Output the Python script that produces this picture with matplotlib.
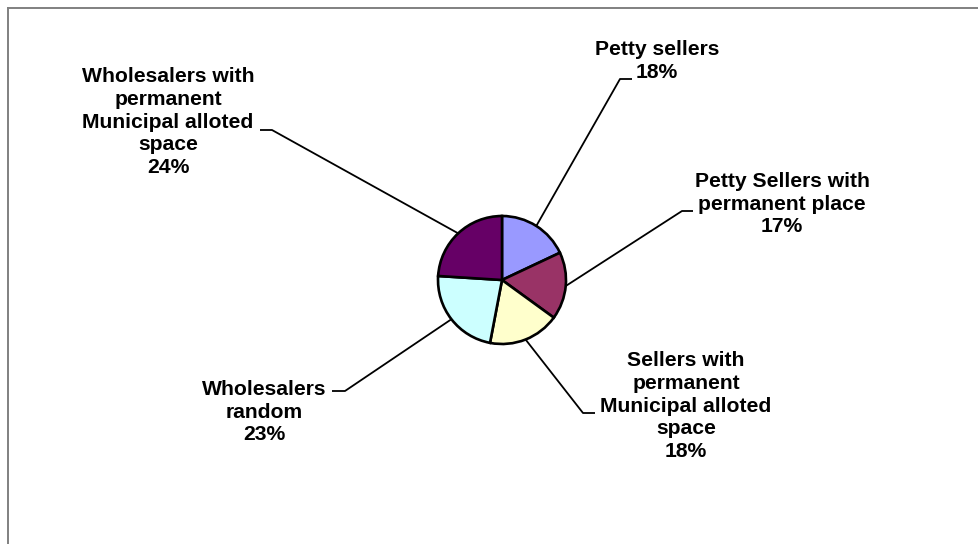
import numpy as np
import matplotlib
matplotlib.use("Agg")
import matplotlib.pyplot as plt
from matplotlib.lines import Line2D

# Market seller categories and their shares (%)
categories = [
    "Petty sellers",
    "Petty Sellers with\npermanent place",
    "Sellers with\npermanent\nMunicipal alloted\nspace",
    "Wholesalers\nrandom",
    "Wholesalers with\npermanent\nMunicipal alloted\nspace",
]
shares = [18, 17, 18, 23, 24]
colors = ["#9999FF", "#993366", "#FFFFCC", "#CCFFFF", "#660066"]

# Layout in pixel units (y measured from the top of the canvas)
W, H = 979, 544
pie_center = (502, 280)
pie_radius = 64
label_pos = [(657, 61), (782, 204), (686, 406), (264, 412), (168, 122)]
# leader: (x at text side, x at elbow, y)
leader = [(632, 620, 79), (693, 682, 211), (595, 583, 413),
          (332, 345, 391), (260, 272, 130)]

fig = plt.figure(figsize=(W / 100, H / 100), dpi=100)
ax = fig.add_axes([0, 0, 1, 1])
ax.set_xlim(0, W)
ax.set_ylim(0, H)
ax.set_aspect("equal")
ax.axis("off")

def fy(y):
    return H - y

cx, cy = pie_center[0], fy(pie_center[1])
wedges, _ = ax.pie(shares, colors=colors, startangle=90, counterclock=False,
                   center=(cx, cy), radius=pie_radius, frame=True,
                   wedgeprops=dict(edgecolor="black", linewidth=1.9))
ax.set_xlim(0, W)
ax.set_ylim(0, H)
ax.axis("off")

font = dict(family=["Liberation Sans", "DejaVu Sans"], fontweight="bold",
            fontsize=15.2, color="black")

for w, cat, val, (lx, ly), (xt, xe, yl) in zip(wedges, categories, shares,
                                                  label_pos, leader):
    mid = np.deg2rad((w.theta1 + w.theta2) / 2)
    ex = cx + pie_radius * np.cos(mid)
    ey = cy + pie_radius * np.sin(mid)
    ax.plot([xt, xe, ex], [fy(yl), fy(yl), ey], color="black", lw=1.3,
            solid_capstyle="butt", zorder=0)
    ax.text(lx, fy(ly), f"{cat}\n{val}%", ha="center", va="center",
            linespacing=1.26, **font)

# Chart-area border (left and top edges)
fig.add_artist(Line2D([8 / W, 8 / W], [0, 1 - 8 / H], transform=fig.transFigure,
                      color="#808080", lw=1.4))
fig.add_artist(Line2D([8 / W, 1], [1 - 8 / H, 1 - 8 / H], transform=fig.transFigure,
                      color="#808080", lw=1.4))

fig.savefig("out.png", dpi=100, facecolor="white")
